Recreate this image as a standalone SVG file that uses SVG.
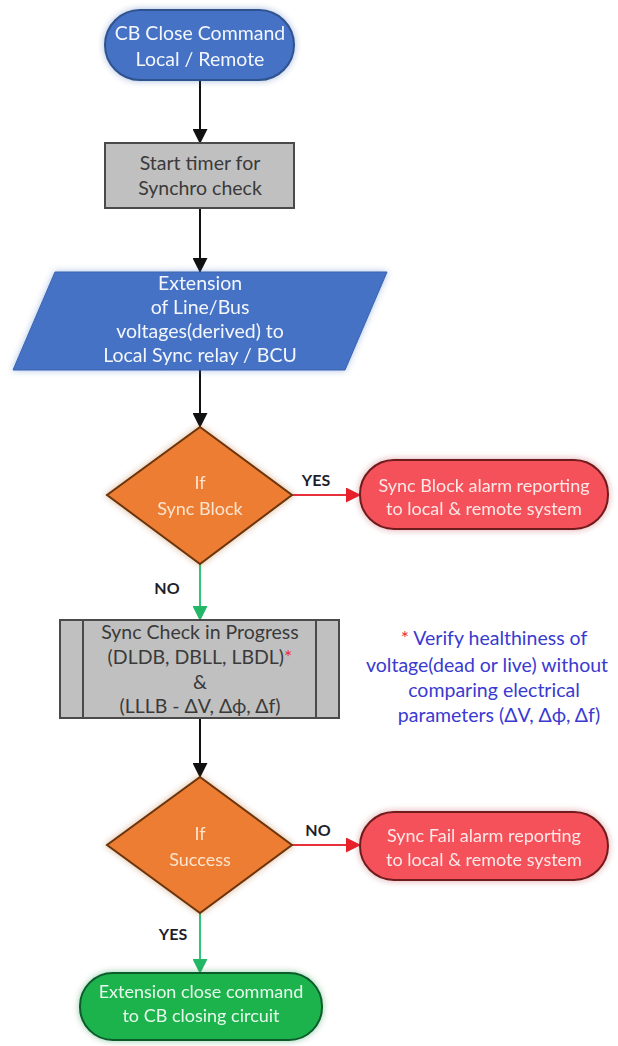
<svg xmlns="http://www.w3.org/2000/svg" width="618" height="1046" viewBox="0 0 618 1046">
<style>
text{font-family:Lato,"Liberation Sans",sans-serif;text-anchor:middle}
.t20{font-size:19.5px}
.t18{font-size:18px}
.lt{fill:#f3f6fd}
.dk{fill:#3a3a3a}
.lbl{font-size:16px;font-weight:bold;fill:#1e1e2a}
.note{font-size:19.5px;fill:#3a3ad0}
.star{fill:#e8313a}
.blue{fill:#4472c4;stroke:#2f528f;stroke-width:2}
.grey{fill:#c0c0c0;stroke:#4a4a4a;stroke-width:2}
.orange{fill:#ed7d31;stroke:#6b3510;stroke-width:2}
.red{fill:#f5515a;stroke:#6e1a1e;stroke-width:2}
.green{fill:#1db34e;stroke:#0f5a2c;stroke-width:2}
.cb{stroke:#111;stroke-width:2;fill:none}
.cr{stroke:#e8303a;stroke-width:2;fill:none}
.cg{stroke:#2ec47a;stroke-width:2;fill:none}
</style>
<defs>
<filter id="glow" x="-20%" y="-30%" width="140%" height="160%">
<feGaussianBlur in="SourceGraphic" stdDeviation="3" result="b"/>
<feColorMatrix in="b" type="matrix" values="1 0 0 0 0 0 1 0 0 0 0 0 1 0 0 0 0 0 0.45 0" result="g"/>
<feMerge><feMergeNode in="g"/><feMergeNode in="SourceGraphic"/></feMerge>
</filter>
<marker id="ab" markerUnits="userSpaceOnUse" markerWidth="15" markerHeight="15" refX="14" refY="7.5" orient="auto"><path d="M0,0 L15,7.5 L0,15 Z" fill="#111"/></marker>
<marker id="ar" markerUnits="userSpaceOnUse" markerWidth="15" markerHeight="15" refX="14" refY="7.5" orient="auto"><path d="M0,0 L15,7.5 L0,15 Z" fill="#e8202a"/></marker>
<marker id="ag" markerUnits="userSpaceOnUse" markerWidth="15" markerHeight="15" refX="14" refY="7.5" orient="auto"><path d="M0,0 L15,7.5 L0,15 Z" fill="#22b868"/></marker>
</defs>

<g id="connectors">
<line class="cb" x1="200" y1="80" x2="200" y2="143" marker-end="url(#ab)"/>
<line class="cb" x1="200" y1="208" x2="200" y2="272" marker-end="url(#ab)"/>
<line class="cb" x1="200" y1="370" x2="200" y2="427" marker-end="url(#ab)"/>
<line class="cr" x1="292" y1="495" x2="360" y2="495" marker-end="url(#ar)"/>
<line class="cg" x1="200" y1="564" x2="200" y2="620" marker-end="url(#ag)"/>
<line class="cb" x1="200" y1="718" x2="200" y2="777" marker-end="url(#ab)"/>
<line class="cr" x1="292" y1="845" x2="360" y2="845" marker-end="url(#ar)"/>
<line class="cg" x1="200" y1="913" x2="200" y2="973" marker-end="url(#ag)"/>
<text class="lbl" x="316" y="486">YES</text>
<text class="lbl" x="167" y="594">NO</text>
<text class="lbl" x="318" y="836">NO</text>
<text class="lbl" x="173" y="940">YES</text>
</g>

<g id="start" filter="url(#glow)">
<rect class="blue" x="105" y="10" width="189" height="70" rx="35"/>
<text class="t20 lt" x="200" y="40">CB Close Command</text>
<text class="t20 lt" x="200" y="66">Local / Remote</text>
</g>

<g id="timer">
<rect class="grey" x="105" y="143" width="189" height="65"/>
<text class="t20 dk" x="200" y="170">Start timer for</text>
<text class="t20 dk" x="200" y="195">Synchro check</text>
</g>

<g id="extension" filter="url(#glow)">
<polygon points="55,272 387,272 345,370 13,370" fill="#4472c4" stroke="#3a64b0" stroke-width="1"/>
<text class="t20 lt" x="200" y="290">Extension</text>
<text class="t20 lt" x="200" y="314">of Line/Bus</text>
<text class="t20 lt" x="200" y="338">voltages(derived) to</text>
<text class="t20 lt" x="200" y="362">Local Sync relay / BCU</text>
</g>

<g id="ifSyncBlock" filter="url(#glow)">
<polygon class="orange" points="200,427 292,495 200,564 107,495"/>
<text class="t18" x="200" y="489" fill="#fde4d0">If</text>
<text class="t18" x="200" y="515" fill="#fde4d0">Sync Block</text>
</g>

<g id="syncBlockAlarm" filter="url(#glow)">
<rect class="red" x="360" y="460" width="248" height="69" rx="34"/>
<text class="t18" x="484" y="492" fill="#fde8e8">Sync Block alarm reporting</text>
<text class="t18" x="484" y="515" fill="#fde8e8">to local &amp; remote system</text>
</g>

<g id="syncCheck">
<rect class="grey" x="60" y="620" width="279" height="98"/>
<line x1="83" y1="620" x2="83" y2="718" stroke="#4a4a4a" stroke-width="2"/>
<line x1="316" y1="620" x2="316" y2="718" stroke="#4a4a4a" stroke-width="2"/>
<text class="t20 dk" x="200" y="639">Sync Check in Progress</text>
<text class="t20 dk" x="200" y="664">(DLDB, DBLL, LBDL)<tspan class="star">*</tspan></text>
<text class="t20 dk" x="200" y="689">&amp;</text>
<text class="t20 dk" x="200" y="713">(LLLB - ΔV, Δϕ, Δf)</text>
</g>

<g id="note">
<text class="note" x="494" y="645"><tspan class="star">*</tspan> Verify healthiness of</text>
<text class="note" x="487" y="672">voltage(dead or live) without</text>
<text class="note" x="494" y="697">comparing electrical</text>
<text class="note" x="499" y="722">parameters (ΔV, Δϕ, Δf)</text>
</g>

<g id="ifSuccess" filter="url(#glow)">
<polygon class="orange" points="200,777 292,845 200,913 107,845"/>
<text class="t18" x="200" y="840" fill="#fde4d0">If</text>
<text class="t18" x="200" y="866" fill="#fde4d0">Success</text>
</g>

<g id="syncFailAlarm" filter="url(#glow)">
<rect class="red" x="360" y="812" width="248" height="68" rx="34"/>
<text class="t18" x="484" y="842" fill="#fde8e8">Sync Fail alarm reporting</text>
<text class="t18" x="484" y="866" fill="#fde8e8">to local &amp; remote system</text>
</g>

<g id="closeCommand" filter="url(#glow)">
<rect class="green" x="80" y="973" width="242" height="67" rx="33"/>
<text class="t18" x="201" y="998" fill="#e6f8ec">Extension close command</text>
<text class="t18" x="201" y="1022" fill="#e6f8ec">to CB closing circuit</text>
</g>
</svg>
